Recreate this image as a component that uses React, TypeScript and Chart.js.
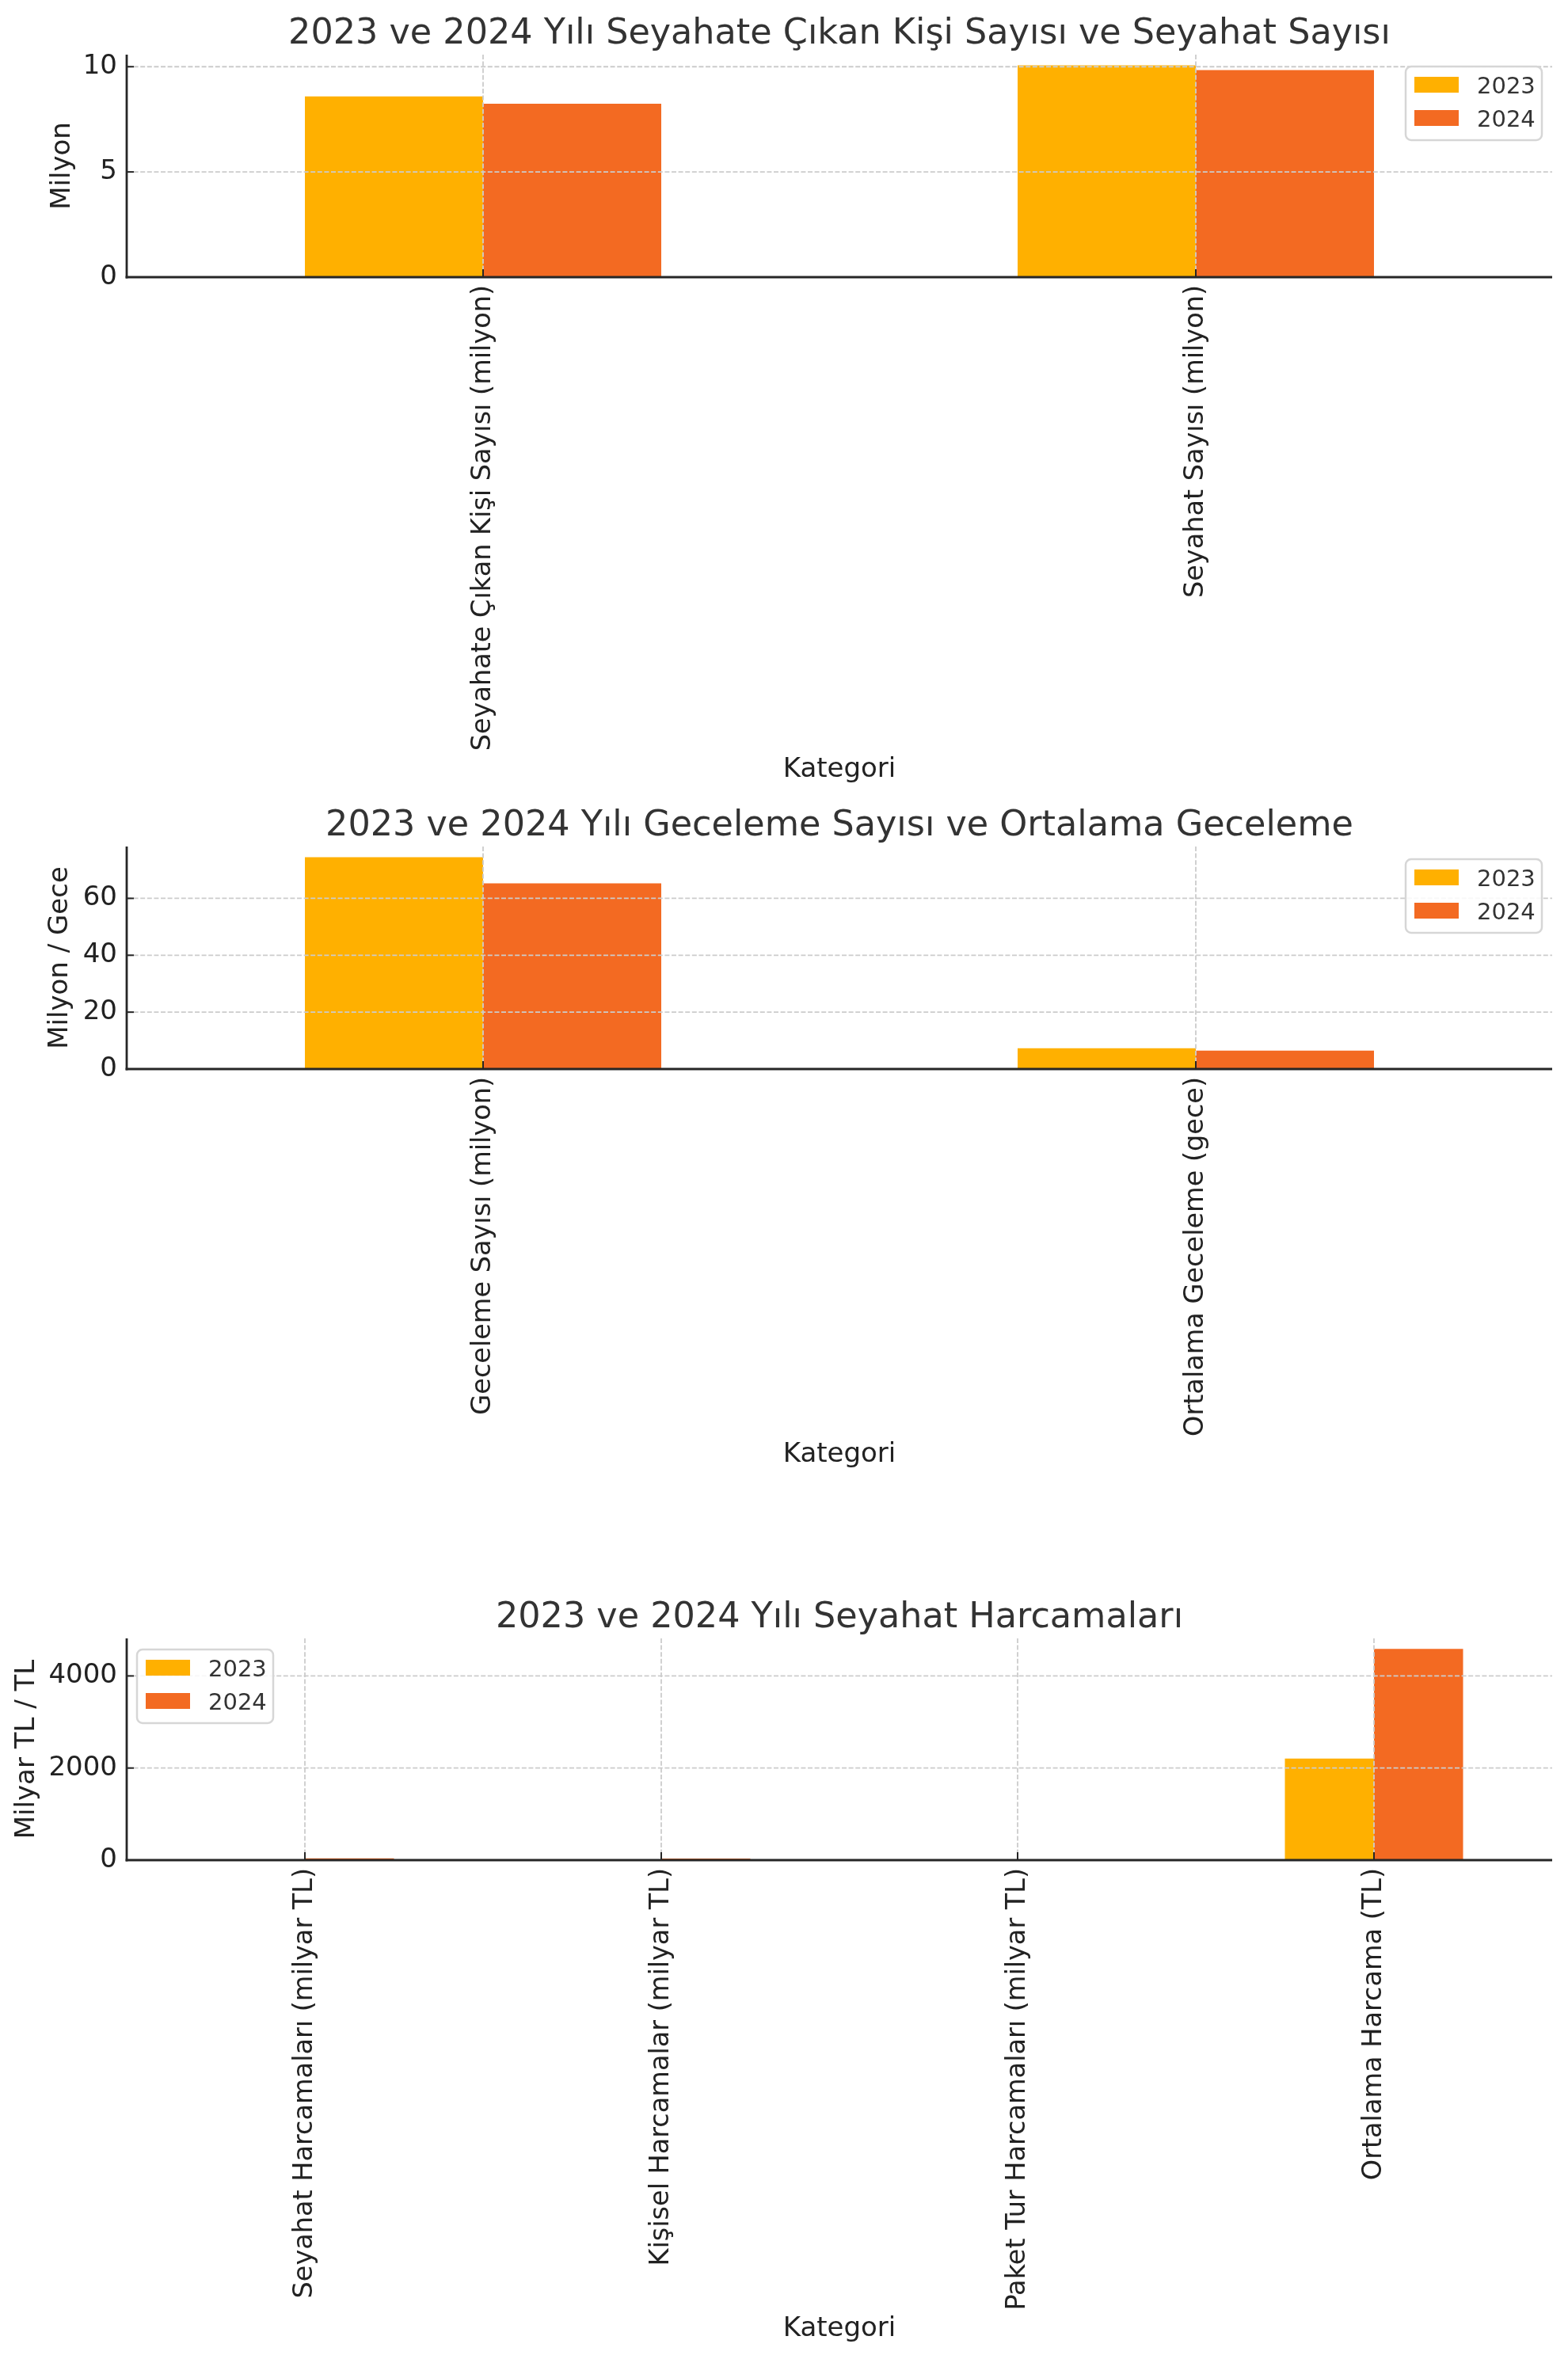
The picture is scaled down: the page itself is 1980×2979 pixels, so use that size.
import React, { useEffect, useRef } from 'react';
import { Chart, registerables } from 'chart.js';

Chart.register(...registerables);
Chart.defaults.font.family = '"DejaVu Sans", sans-serif';

// ---------- data ----------
const seriesLabels = ['2023', '2024'];
const seriesColors = ['#FFB000', '#F36A22'];
const xAxisLabel = 'Kategori';

const title1 = '2023 ve 2024 Yılı Seyahate Çıkan Kişi Sayısı ve Seyahat Sayısı';
const yLabel1 = 'Milyon';
const cats1 = ['Seyahate Çıkan Kişi Sayısı (milyon)', 'Seyahat Sayısı (milyon)'];
const vals1_2023 = [8.59, 10.07];
const vals1_2024 = [8.24, 9.84];
const yTicks1 = [0, 5, 10];

const title2 = '2023 ve 2024 Yılı Geceleme Sayısı ve Ortalama Geceleme';
const yLabel2 = 'Milyon / Gece';
const cats2 = ['Geceleme Sayısı (milyon)', 'Ortalama Geceleme (gece)'];
const vals2_2023 = [74.5, 7.3];
const vals2_2024 = [65.3, 6.5];
const yTicks2 = [0, 20, 40, 60];

const title3 = '2023 ve 2024 Yılı Seyahat Harcamaları';
const yLabel3 = 'Milyar TL / TL';
const cats3 = [
  'Seyahat Harcamaları (milyar TL)',
  'Kişisel Harcamalar (milyar TL)',
  'Paket Tur Harcamaları (milyar TL)',
  'Ortalama Harcama (TL)',
];
const vals3_2023 = [18, 15, 3, 2207];
const vals3_2024 = [40, 34, 6, 4586];
const yTicks3 = [0, 2000, 4000];

// ---------- drawing helper plugin ----------
const overlayPlugin = {
  id: 'overlay',
  afterDatasetsDraw(chart: any, _args: any, opts: any) {
    const { ctx, chartArea: a, scales } = chart;
    const x = scales.x;
    const y = scales.y;
    const line = (x1: number, y1: number, x2: number, y2: number) => {
      ctx.beginPath();
      ctx.moveTo(x1, y1);
      ctx.lineTo(x2, y2);
      ctx.stroke();
    };
    ctx.save();
    // grid
    ctx.strokeStyle = '#cccccc';
    ctx.lineWidth = 1.8;
    ctx.setLineDash([6, 2.6]);
    y.ticks.forEach((t: any) => {
      const py = y.getPixelForValue(t.value);
      if (Math.abs(py - a.bottom) < 1) return;
      line(a.left, py, a.right, py);
    });
    x.ticks.forEach((_t: any, i: number) => {
      const px = x.getPixelForTick(i);
      line(px, a.top, px, a.bottom);
    });
    ctx.setLineDash([]);
    // spines
    ctx.strokeStyle = '#262626';
    ctx.lineWidth = 2.8;
    line(a.left, a.top, a.left, a.bottom + 1.4);
    line(a.left - 1.4, a.bottom, a.right, a.bottom);
    // tick marks (inward)
    ctx.lineWidth = 2;
    y.ticks.forEach((t: any) => {
      const py = y.getPixelForValue(t.value);
      line(a.left, py, a.left + 9, py);
    });
    x.ticks.forEach((_t: any, i: number) => {
      const px = x.getPixelForTick(i);
      line(px, a.bottom, px, a.bottom - 10);
    });

    // legend
    const lx = opts.legendX;
    const ly = opts.legendY;
    const w = 172;
    const h = 93;
    const r = 7;
    ctx.beginPath();
    ctx.moveTo(lx + r, ly);
    ctx.arcTo(lx + w, ly, lx + w, ly + h, r);
    ctx.arcTo(lx + w, ly + h, lx, ly + h, r);
    ctx.arcTo(lx, ly + h, lx, ly, r);
    ctx.arcTo(lx, ly, lx + w, ly, r);
    ctx.closePath();
    ctx.fillStyle = 'rgba(255,255,255,0.85)';
    ctx.fill();
    ctx.strokeStyle = '#d6d6d6';
    ctx.lineWidth = 2.5;
    ctx.stroke();
    ctx.font = '29px "DejaVu Sans"';
    ctx.textAlign = 'left';
    ctx.textBaseline = 'alphabetic';
    chart.data.datasets.forEach((ds: any, i: number) => {
      const sy = ly + 13 + i * 42;
      ctx.fillStyle = ds.backgroundColor;
      ctx.fillRect(lx + 11, sy, 56, 20);
      ctx.fillStyle = '#333333';
      ctx.fillText(ds.label, lx + 90, sy + 21);
    });

    // title
    ctx.font = '44.5px "DejaVu Sans"';
    ctx.fillStyle = '#333333';
    ctx.textAlign = 'center';
    ctx.fillText(opts.title, (a.left + a.right) / 2, 55);
    ctx.restore();
  },
};

type PanelProps = {
  top: number;
  height: number;
  plotBottom: number;
  cats: string[];
  v23: number[];
  v24: number[];
  title: string;
  yLabel: string;
  yTicks: number[];
  yTitleCenter: number;
  xTitleCenter: number;
  legendX: number;
  legendY: number;
};

function BarPanel(p: PanelProps) {
  const ref = useRef<HTMLCanvasElement | null>(null);
  useEffect(() => {
    if (!ref.current) return;
    const maxVal = Math.max(...p.v23, ...p.v24) * 1.05;
    const chart = new Chart(ref.current, {
      type: 'bar',
      data: {
        labels: p.cats,
        datasets: [
          { label: seriesLabels[0], data: p.v23, backgroundColor: seriesColors[0], borderWidth: 0 },
          { label: seriesLabels[1], data: p.v24, backgroundColor: seriesColors[1], borderWidth: 0 },
        ],
      },
      options: {
        responsive: false,
        animation: false,
        devicePixelRatio: 1,
        layout: { padding: { left: 0, right: 20, top: 69, bottom: 0 } },
        datasets: { bar: { categoryPercentage: 0.5, barPercentage: 1.0 } },
        plugins: {
          legend: { display: false },
          tooltip: { enabled: false },
          title: { display: false },
          overlay: { title: p.title, legendX: p.legendX, legendY: p.legendY },
        } as any,
        scales: {
          x: {
            type: 'category',
            offset: true,
            grid: { display: false, drawTicks: false },
            border: { display: false },
            ticks: {
              autoSkip: false,
              minRotation: 90,
              maxRotation: 90,
              padding: 10,
              color: '#222222',
              font: { size: 33.5 },
            },
            title: {
              display: true,
              text: xAxisLabel,
              color: '#222222',
              font: { size: 34, lineHeight: 1.2 },
              padding: { top: 0, bottom: p.height - p.xTitleCenter - 20.4 },
            },
            afterFit: (s: any) => {
              s.height = p.height - p.plotBottom;
            },
          },
          y: {
            min: 0,
            max: maxVal,
            grid: { display: false, drawTicks: false },
            border: { display: false },
            ticks: {
              padding: 12,
              color: '#222222',
              font: { size: 34 },
              callback: (v: any) => String(v),
            },
            afterBuildTicks: (s: any) => {
              s.ticks = p.yTicks.map((v) => ({ value: v }));
            },
            title: {
              display: true,
              text: p.yLabel,
              color: '#222222',
              font: { size: 34, lineHeight: 1.2 },
              padding: { top: p.yTitleCenter - 20.4, bottom: 0 },
            },
            afterFit: (s: any) => {
              s.width = 160;
            },
          },
        },
      },
      plugins: [overlayPlugin],
    } as any);
    return () => chart.destroy();
  }, []);
  return (
    <canvas
      ref={ref}
      width={1980}
      height={p.height}
      style={{ position: 'absolute', left: 0, top: p.top, width: 1980, height: p.height, display: 'block' }}
    />
  );
}

export default function App() {
  return (
    <div style={{ position: 'absolute', left: 0, top: 0, width: 1980, height: 2979, background: '#ffffff' }}>
      <BarPanel
        top={0}
        height={1000}
        plotBottom={350}
        cats={cats1}
        v23={vals1_2023}
        v24={vals1_2024}
        title={title1}
        yLabel={yLabel1}
        yTicks={yTicks1}
        yTitleCenter={79}
        xTitleCenter={972}
        legendX={1775}
        legendY={84}
      />
      <BarPanel
        top={1000}
        height={1000}
        plotBottom={350}
        cats={cats2}
        v23={vals2_2023}
        v24={vals2_2024}
        title={title2}
        yLabel={yLabel2}
        yTicks={yTicks2}
        yTitleCenter={76}
        xTitleCenter={837}
        legendX={1775}
        legendY={85}
      />
      <BarPanel
        top={2000}
        height={979}
        plotBottom={349}
        cats={cats3}
        v23={vals3_2023}
        v24={vals3_2024}
        title={title3}
        yLabel={yLabel3}
        yTicks={yTicks3}
        yTitleCenter={34}
        xTitleCenter={941}
        legendX={173}
        legendY={83}
      />
    </div>
  );
}
